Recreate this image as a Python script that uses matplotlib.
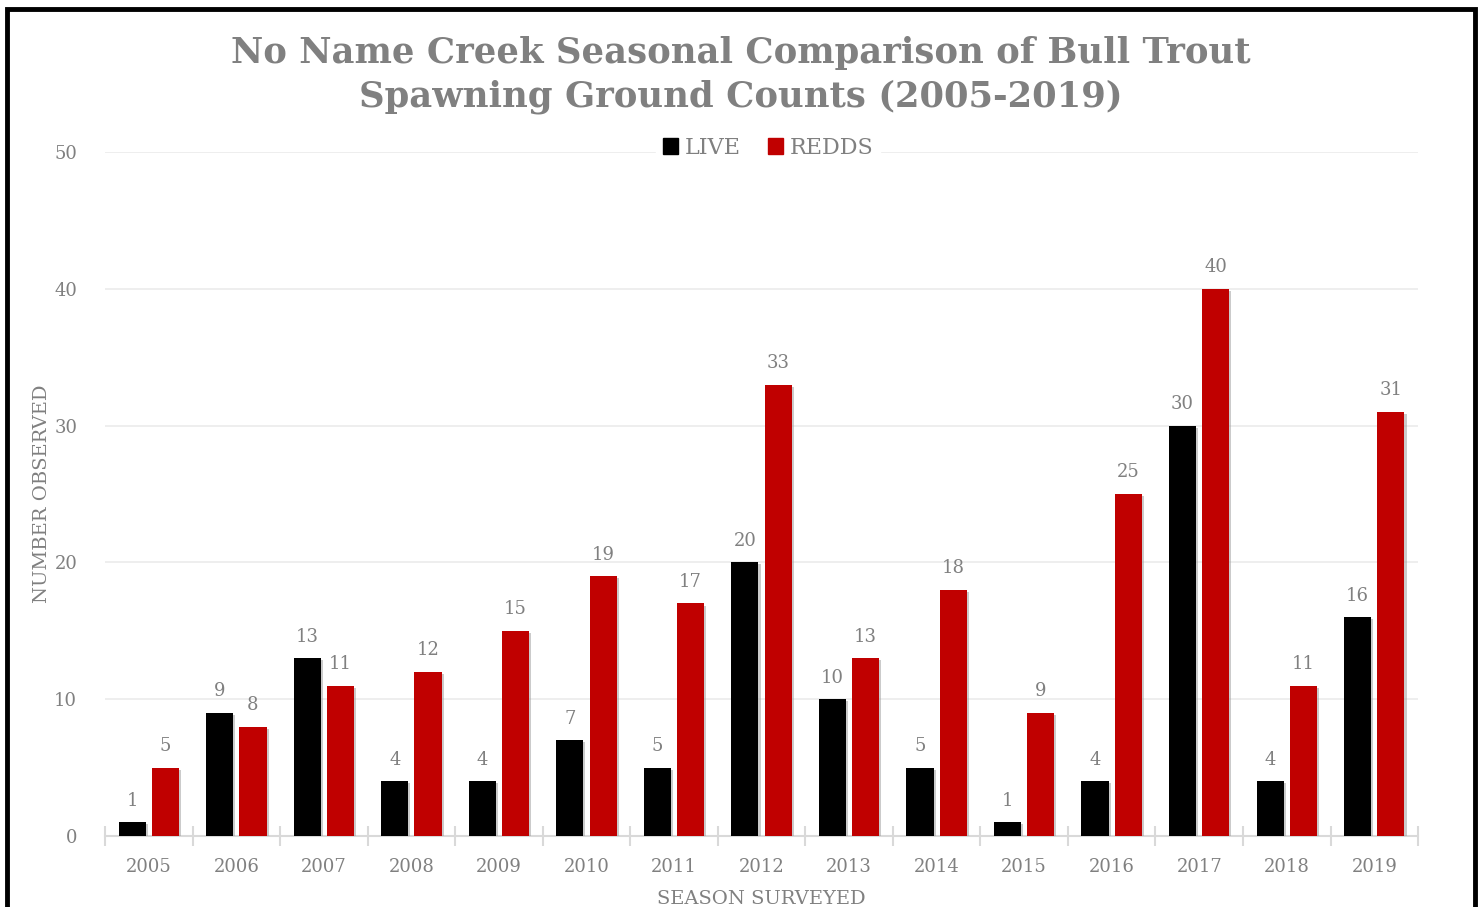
import numpy as np
import matplotlib
matplotlib.use("Agg")
import matplotlib.pyplot as plt
import matplotlib.patheffects as pe
from matplotlib.patches import Rectangle, Patch

years = ['2005', '2006', '2007', '2008', '2009', '2010', '2011', '2012',
         '2013', '2014', '2015', '2016', '2017', '2018', '2019']
live = [1, 9, 13, 4, 4, 7, 5, 20, 10, 5, 1, 4, 30, 4, 16]
redds = [5, 8, 11, 12, 15, 19, 17, 33, 13, 18, 9, 25, 40, 11, 31]

GRAY = '#808080'
RED = '#C00000'
plt.rcParams['font.family'] = ['DejaVu Serif']

fig = plt.figure(figsize=(14.81, 9.07), dpi=100)
ax = fig.add_axes([0.0709, 0.0783, 0.8866, 0.7541])

x = np.arange(len(years))
w = 0.31
shadow = [pe.SimplePatchShadow(offset=(1.5, -1.5), shadow_rgbFace='#999999', alpha=0.5), pe.Normal()]
b1 = ax.bar(x - 0.19, live, w, color='black', zorder=3, path_effects=shadow)
b2 = ax.bar(x + 0.19, redds, w, color=RED, zorder=3, path_effects=shadow)

for bars in (b1, b2):
    ax.bar_label(bars, padding=9, color=GRAY, fontsize=13)

ax.set_xlim(-0.5, len(years) - 0.5)
ax.set_ylim(0, 50)
ax.set_yticks(range(0, 51, 10))
ax.yaxis.grid(True, color='#ebebeb', linewidth=1.2, zorder=0)
ax.set_axisbelow(True)

ax.set_xticks(x)
ax.set_xticklabels(years)
ax.set_xticks(np.arange(-0.5, len(years), 1), minor=True)
ax.tick_params(axis='x', which='major', length=0, pad=16, labelsize=13, labelcolor=GRAY)
ax.tick_params(axis='x', which='minor', length=14, width=1.5, color='#d9d9d9', direction='inout')
ax.tick_params(axis='y', length=0, pad=20, labelsize=13, labelcolor=GRAY)

for s in ['top', 'right', 'left']:
    ax.spines[s].set_visible(False)
ax.spines['bottom'].set_color('#d9d9d9')
ax.spines['bottom'].set_linewidth(1.5)

ax.set_ylabel('NUMBER OBSERVED', color=GRAY, fontsize=14, labelpad=2)
ax.set_xlabel('SEASON SURVEYED', color=GRAY, fontsize=14, labelpad=10)

leg = ax.legend(handles=[Patch(color='black', label='LIVE'), Patch(color=RED, label='REDDS')],
                loc='center', bbox_to_anchor=(0.505, 1.006), ncol=2, frameon=True,
                fontsize=16, handlelength=0.7, handleheight=0.7, handletextpad=0.3,
                columnspacing=1.2, borderpad=0.3)
leg.get_frame().set_edgecolor('white')
leg.get_frame().set_facecolor('white')
leg.get_frame().set_alpha(1)
for t in leg.get_texts():
    t.set_color(GRAY)

fig.text(0.5, 0.917, 'No Name Creek Seasonal Comparison of Bull Trout\nSpawning Ground Counts (2005-2019)',
         ha='center', va='center', fontsize=25.5, fontweight='bold', color=GRAY, linespacing=1.35)

fig.patches.append(Rectangle((0.0047, -0.05), 0.9912, 1.04, transform=fig.transFigure,
                             fill=False, edgecolor='black', linewidth=3.5))

fig.savefig('out.png', dpi=100)
